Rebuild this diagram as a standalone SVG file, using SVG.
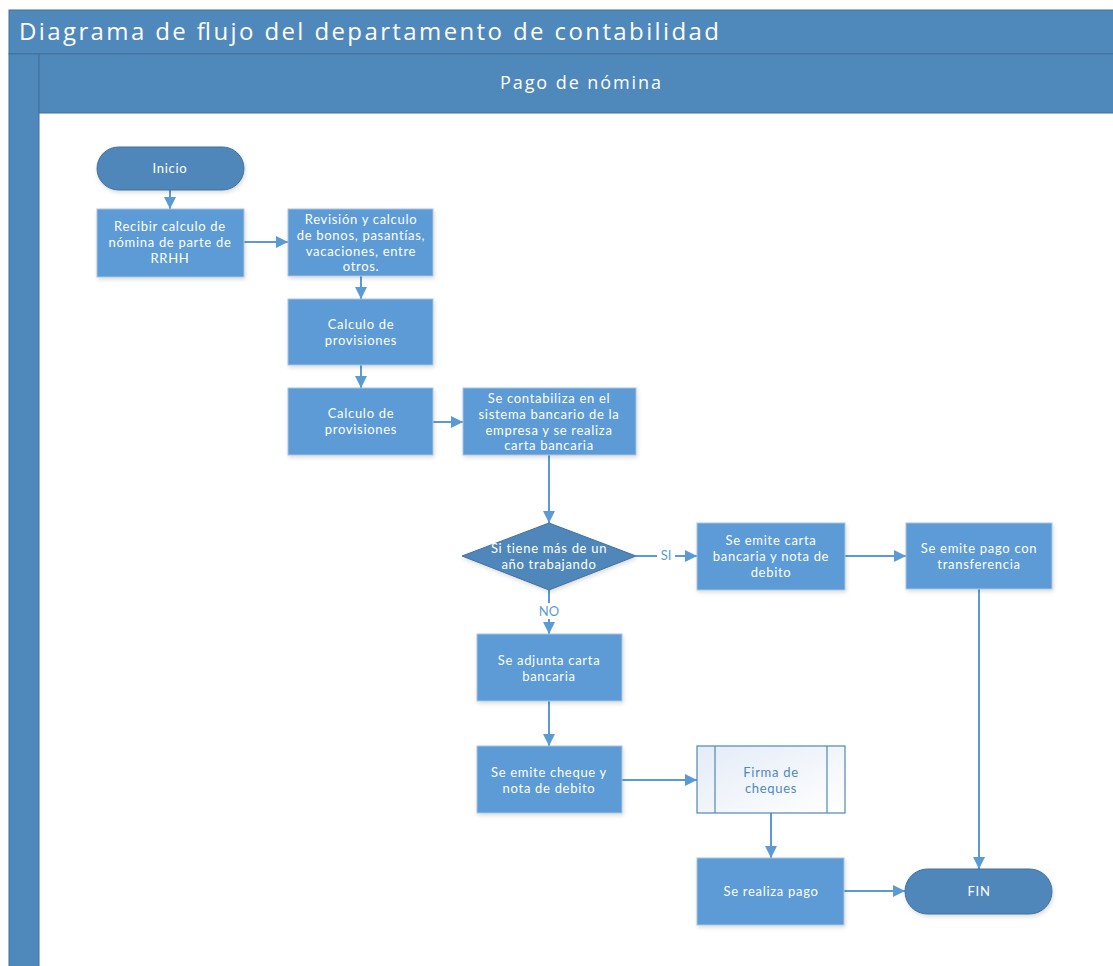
<svg xmlns="http://www.w3.org/2000/svg" width="1113" height="966" viewBox="0 0 1113 966">
  <style>
    .frame { fill: #4f88bb; stroke: #41719c; stroke-width: 1; }
    .box { fill: #5b9bd5; stroke: #a9c4e0; stroke-width: 1; filter: url(#shadow); }
    .term { fill: #4f87ba; stroke: #41719c; stroke-width: 1; filter: url(#shadow); }
    .sub { fill: url(#subFill); stroke: #4f88bb; stroke-width: 1.2; }
    .edge { fill: none; stroke: #5b9bd5; stroke-width: 2; marker-end: url(#arrow); }
    .edge-plain { fill: none; stroke: #5b9bd5; stroke-width: 2; }
    .lbl { font-family: Lato, "Open Sans", "Liberation Sans", sans-serif; font-size: 13px; letter-spacing: 0.7px; fill: #ffffff; text-anchor: middle; }
    .lbl-dark { font-family: Lato, "Open Sans", "Liberation Sans", sans-serif; font-size: 13px; letter-spacing: 0.7px; fill: #4f88bb; text-anchor: middle; }
    .edge-lbl { font-family: Lato, "Open Sans", "Liberation Sans", sans-serif; font-size: 13px; fill: #5b9bd5; text-anchor: middle; }
    .title { font-family: "Open Sans", "Liberation Sans", sans-serif; font-size: 24px; fill: #ffffff; }
    .lane { font-family: "Open Sans", "Liberation Sans", sans-serif; font-size: 18px; fill: #ffffff; }
  </style>
  <defs>
    <marker id="arrow" viewBox="0 0 12 12" refX="12" refY="6" markerWidth="6" markerHeight="6" markerUnits="strokeWidth" orient="auto">
      <path d="M0,0 L12,6 L0,12 Z" fill="#5b9bd5"/>
    </marker>
    <filter id="shadow" x="-10%" y="-10%" width="125%" height="130%">
      <feGaussianBlur in="SourceAlpha" stdDeviation="2"/>
      <feOffset dx="1" dy="2" result="b"/>
      <feComponentTransfer><feFuncA type="linear" slope="0.15"/></feComponentTransfer>
      <feMerge><feMergeNode/><feMergeNode in="SourceGraphic"/></feMerge>
    </filter>
    <linearGradient id="subFill" x1="0" y1="0" x2="1" y2="1">
      <stop offset="0" stop-color="#e4ecf7"/>
      <stop offset="1" stop-color="#ffffff"/>
    </linearGradient>
  </defs>

  <rect width="1113" height="966" fill="#ffffff"/>

  <!-- Pool frame -->
  <g id="pool">
    <rect class="frame" x="9" y="10" width="1110" height="44"/>
    <text class="title" x="19" y="40" textLength="700" lengthAdjust="spacing">Diagrama de flujo del departamento de contabilidad</text>
    <rect class="frame" x="9" y="54" width="30" height="920"/>
    <rect class="frame" x="39" y="54" width="1080" height="59"/>
    <text class="lane" x="500" y="89" textLength="161" lengthAdjust="spacing">Pago de nómina</text>
  </g>

  <!-- Connectors -->
  <g id="connectors">
    <path class="edge" d="M170,190 L170,209"/>
    <path class="edge" d="M244,242 L288,242"/>
    <path class="edge" d="M361,276 L361,299"/>
    <path class="edge" d="M361,365 L361,388"/>
    <path class="edge" d="M433,422 L463,422"/>
    <path class="edge" d="M549,455 L549,523"/>
    <path class="edge-plain" d="M636,556 L657,556"/>
    <path class="edge" d="M675,556 L697,556"/>
    <text class="edge-lbl" x="666" y="560">SI</text>
    <path class="edge-plain" d="M549,590 L549,603"/>
    <path class="edge" d="M549,619 L549,634"/>
    <text class="edge-lbl" x="549" y="616">NO</text>
    <path class="edge" d="M845,556 L906,556"/>
    <path class="edge" d="M979,589 L979,869"/>
    <path class="edge" d="M549,701 L549,746"/>
    <path class="edge" d="M622,780 L697,780"/>
    <path class="edge" d="M771,813 L771,858"/>
    <path class="edge" d="M844,891 L905,891"/>
  </g>

  <!-- Nodes -->
  <g id="inicio">
    <rect class="term" x="97" y="147" width="147" height="43" rx="21.5"/>
    <text class="lbl" x="170" y="173">Inicio</text>
  </g>
  <g id="recibir">
    <rect class="box" x="97" y="209" width="147" height="68"/>
    <text class="lbl" x="170" y="231">Recibir calculo de</text>
    <text class="lbl" x="170" y="247">nómina de parte de</text>
    <text class="lbl" x="170" y="263">RRHH</text>
  </g>
  <g id="revision">
    <rect class="box" x="288" y="209" width="145" height="67"/>
    <text class="lbl" x="361" y="224">Revisión y calculo</text>
    <text class="lbl" x="361" y="240">de bonos, pasantías,</text>
    <text class="lbl" x="361" y="255.5">vacaciones, entre</text>
    <text class="lbl" x="361" y="271">otros.</text>
  </g>
  <g id="calculo1">
    <rect class="box" x="288" y="299" width="145" height="66"/>
    <text class="lbl" x="361" y="329">Calculo de</text>
    <text class="lbl" x="361" y="345">provisiones</text>
  </g>
  <g id="calculo2">
    <rect class="box" x="288" y="388" width="145" height="67"/>
    <text class="lbl" x="361" y="418">Calculo de</text>
    <text class="lbl" x="361" y="434">provisiones</text>
  </g>
  <g id="contabiliza">
    <rect class="box" x="463" y="388" width="173" height="67"/>
    <text class="lbl" x="549" y="403">Se contabiliza en el</text>
    <text class="lbl" x="549" y="419">sistema bancario de la</text>
    <text class="lbl" x="549" y="434.5">empresa y se realiza</text>
    <text class="lbl" x="549" y="450">carta bancaria</text>
  </g>
  <g id="decision">
    <polygon class="term" points="549,523 636,556 549,590 462,556"/>
    <text class="lbl" x="549" y="553">Si tiene más de un</text>
    <text class="lbl" x="549" y="569">año trabajando</text>
  </g>
  <g id="emite-carta">
    <rect class="box" x="697" y="523" width="148" height="67"/>
    <text class="lbl" x="771" y="545">Se emite carta</text>
    <text class="lbl" x="771" y="561">bancaria y nota de</text>
    <text class="lbl" x="771" y="577">debito</text>
  </g>
  <g id="emite-pago">
    <rect class="box" x="906" y="523" width="146" height="66"/>
    <text class="lbl" x="979" y="553">Se emite pago con</text>
    <text class="lbl" x="979" y="569">transferencia</text>
  </g>
  <g id="adjunta">
    <rect class="box" x="477" y="634" width="145" height="67"/>
    <text class="lbl" x="549" y="665">Se adjunta carta</text>
    <text class="lbl" x="549" y="681">bancaria</text>
  </g>
  <g id="emite-cheque">
    <rect class="box" x="477" y="746" width="145" height="67"/>
    <text class="lbl" x="549" y="777">Se emite cheque y</text>
    <text class="lbl" x="549" y="793">nota de debito</text>
  </g>
  <g id="firma">
    <rect class="sub" x="697" y="746" width="148" height="67"/>
    <line x1="715" y1="746" x2="715" y2="813" stroke="#4f88bb" stroke-width="1.2"/>
    <line x1="827" y1="746" x2="827" y2="813" stroke="#4f88bb" stroke-width="1.2"/>
    <text class="lbl-dark" x="771" y="777">Firma de</text>
    <text class="lbl-dark" x="771" y="793">cheques</text>
  </g>
  <g id="realiza-pago">
    <rect class="box" x="697" y="858" width="147" height="67"/>
    <text class="lbl" x="771" y="896">Se realiza pago</text>
  </g>
  <g id="fin">
    <rect class="term" x="905" y="869" width="147" height="45" rx="22.5"/>
    <text class="lbl" x="979" y="896">FIN</text>
  </g>
</svg>
